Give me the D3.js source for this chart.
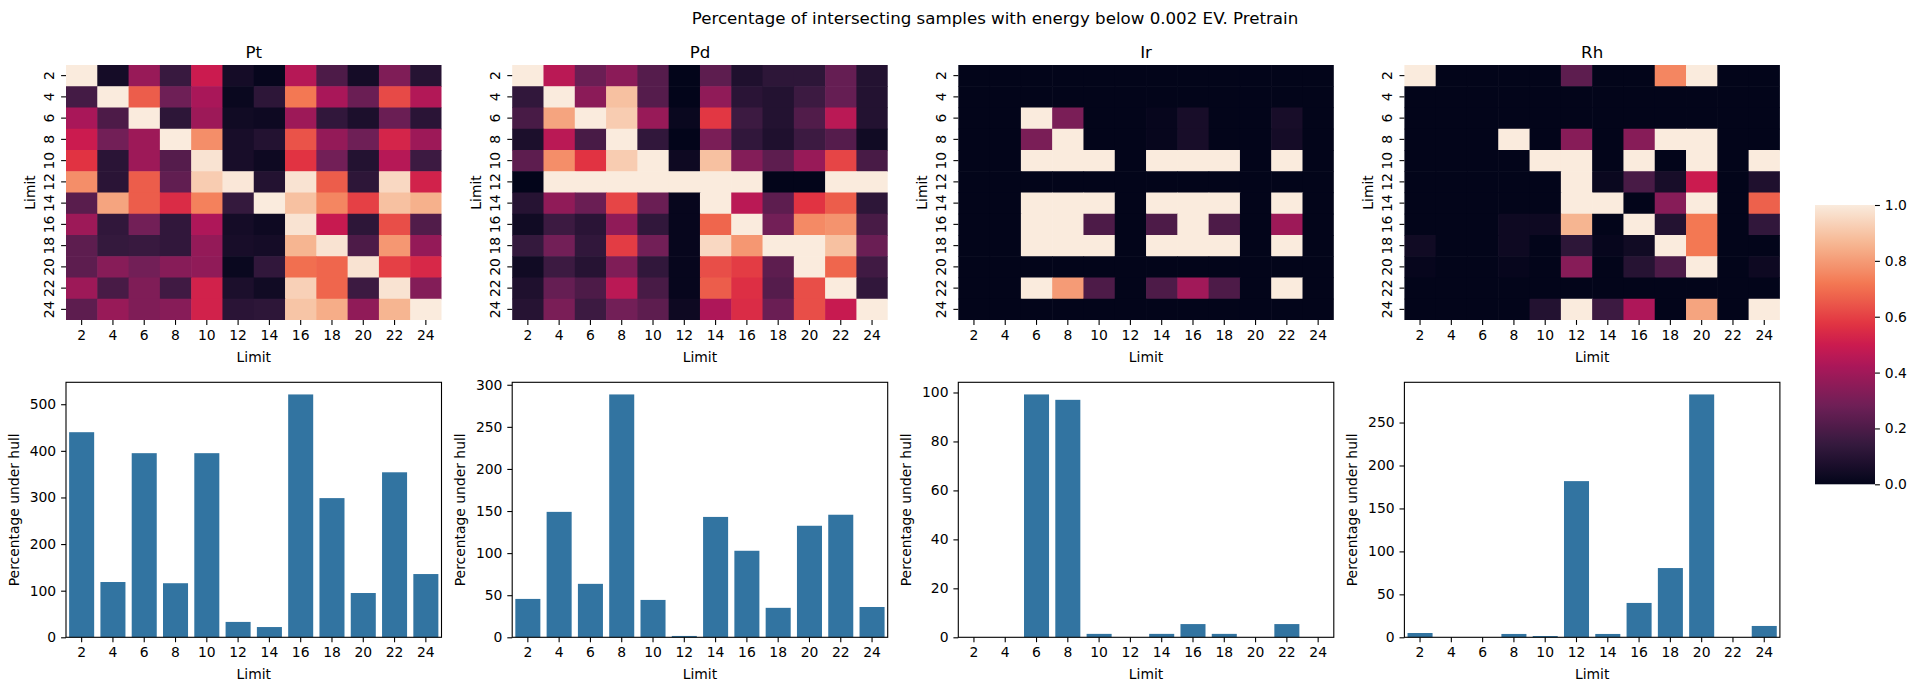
<!DOCTYPE html>
<html><head><meta charset="utf-8">
<script src="https://cdn.jsdelivr.net/npm/d3@7"></script>
<style>
body{margin:0;background:#fff}
svg{display:block}
text{font-family:"DejaVu Sans",sans-serif;fill:#000}
</style>
</head><body>
<svg id="chart" width="1916" height="690"></svg>
<script>
// ---------------- data ----------------
const limits = [2,4,6,8,10,12,14,16,18,20,22,24];
const elements = ["Pt","Pd","Ir","Rh"];
const suptitle = "Percentage of intersecting samples with energy below 0.002 EV. Pretrain";

const ptHeat = [
 [1.00,0.05,0.38,0.15,0.50,0.05,0.01,0.45,0.20,0.05,0.32,0.10],
 [0.18,1.00,0.66,0.28,0.42,0.02,0.12,0.72,0.42,0.27,0.62,0.44],
 [0.42,0.20,1.00,0.12,0.39,0.04,0.03,0.39,0.13,0.07,0.27,0.11],
 [0.50,0.29,0.39,1.00,0.77,0.06,0.09,0.64,0.37,0.28,0.53,0.39],
 [0.57,0.11,0.39,0.22,0.98,0.06,0.03,0.57,0.29,0.09,0.45,0.16],
 [0.77,0.11,0.66,0.25,0.92,0.99,0.09,0.98,0.66,0.12,0.95,0.52],
 [0.23,0.82,0.66,0.55,0.74,0.14,1.00,0.89,0.75,0.60,0.89,0.85],
 [0.39,0.13,0.29,0.13,0.43,0.05,0.03,0.98,0.49,0.12,0.63,0.21],
 [0.24,0.14,0.15,0.13,0.37,0.06,0.05,0.86,0.98,0.20,0.79,0.37],
 [0.24,0.34,0.29,0.34,0.36,0.02,0.13,0.70,0.68,0.98,0.60,0.54],
 [0.39,0.19,0.32,0.17,0.52,0.07,0.04,0.93,0.68,0.16,0.98,0.33],
 [0.24,0.38,0.32,0.34,0.52,0.11,0.12,0.90,0.84,0.36,0.86,1.00]
];
const pdHeat = [
 [1.00,0.46,0.27,0.35,0.22,0.00,0.24,0.08,0.12,0.12,0.26,0.09],
 [0.13,1.00,0.35,0.89,0.22,0.00,0.36,0.11,0.09,0.16,0.26,0.09],
 [0.19,0.82,1.00,0.92,0.38,0.02,0.58,0.16,0.09,0.21,0.46,0.09],
 [0.07,0.46,0.19,1.00,0.13,0.00,0.31,0.13,0.08,0.16,0.22,0.04],
 [0.24,0.77,0.57,0.92,1.00,0.03,0.89,0.33,0.24,0.38,0.61,0.19],
 [0.00,1.00,1.00,1.00,1.00,1.00,1.00,1.00,0.00,0.00,1.00,1.00],
 [0.10,0.36,0.27,0.61,0.27,0.01,1.00,0.46,0.24,0.57,0.66,0.12],
 [0.04,0.16,0.11,0.36,0.13,0.01,0.68,1.00,0.29,0.76,0.78,0.19],
 [0.14,0.29,0.13,0.59,0.29,0.01,0.95,0.79,1.00,1.00,0.89,0.27],
 [0.04,0.16,0.10,0.32,0.13,0.01,0.63,0.59,0.24,1.00,0.68,0.17],
 [0.08,0.26,0.20,0.46,0.19,0.01,0.66,0.56,0.22,0.63,1.00,0.13],
 [0.10,0.31,0.16,0.29,0.24,0.03,0.43,0.55,0.27,0.63,0.49,1.00]
];
const irHeat = [
 [0,0,0,0,0,0,0,0,0,0,0,0],
 [0,0,0,0,0,0,0,0,0,0,0,0],
 [0,0,1.00,0.31,0,0,0.01,0.06,0,0,0.06,0],
 [0,0,0.31,1.00,0,0,0.01,0.06,0,0,0.05,0],
 [0,0,1,1,1,0,1,1,1,0,1,0],
 [0,0,0,0,0,0,0,0,0,0,0,0],
 [0,0,1,1,1,0,1,1,1,0,1,0],
 [0,0,1,1,0.20,0,0.20,1,0.20,0,0.39,0],
 [0,0,1,1,1,0,1,1,1,0,1,0],
 [0,0,0,0,0,0,0,0,0,0,0,0],
 [0,0,1,0.80,0.20,0,0.20,0.40,0.20,0,1,0],
 [0,0,0,0,0,0,0,0,0,0,0,0]
];
const rhHeat = [
 [1,0,0,0,0,0.24,0,0,0.75,1,0,0],
 [0,0,0,0,0,0,0,0,0,0,0,0],
 [0,0,0,0,0,0,0,0,0,0,0,0],
 [0,0,0,1,0,0.34,0,0.34,1,1,0,0],
 [0,0,0,0,1,1,0,1,0,1,0,1],
 [0,0,0,0,0,1,0.02,0.19,0.06,0.50,0,0.08],
 [0,0,0,0,0,1,1,0,0.34,1,0,0.67],
 [0,0,0,0.03,0.03,0.86,0,1,0.09,0.72,0,0.13],
 [0.04,0,0,0.03,0,0.12,0.01,0.04,1,0.72,0,0],
 [0.01,0,0,0.01,0,0.34,0,0.10,0.20,1,0,0.03],
 [0,0,0,0,0,0,0,0,0,0,0,0],
 [0,0,0,0,0.09,1,0.16,0.43,0,0.82,0,1]
];

const ptBars = [440,118.6,395,116,395,33,22,521,298.6,95,354,135.7];
const pdBars = [45.6,149,63.5,288.5,44.4,1.6,143,102.8,35,132.5,145.6,36];
const irBars = [0,0,99.2,97,1.4,0,1.4,5.4,1.4,0,5.4,0];
const rhBars = [5,0,0,3.9,1.5,181.8,3.9,40,80.6,282.7,0,13.2];

const ptTicks = [0,100,200,300,400,500];
const pdTicks = [0,50,100,150,200,250,300];
const irTicks = [0,20,40,60,80,100];
const rhTicks = [0,50,100,150,200,250];
const cbTicks = [0,0.2,0.4,0.6,0.8,1.0];

const heats = [ptHeat, pdHeat, irHeat, rhHeat];
const bars = [ptBars, pdBars, irBars, rhBars];
const barTicks = [ptTicks, pdTicks, irTicks, rhTicks];

// ---------------- style / layout ----------------
const rocketPos = [0, 1/7, 2/7, 3/7, 0.5, 4/7, 5/7, 6/7, 1];
const rocketCol = ["#03051a","#35193e","#701f57","#ad1759","#cb1b4f","#e13342","#f37651","#f6b48f","#faebdd"];
const color = d3.scaleLinear().domain(rocketPos).range(rocketCol).interpolate(d3.interpolateRgb).clamp(true);

const lefts = [66, 512.2, 958.3, 1404.4];
const W = 375.5;
const heatTop = 65, heatBot = 320;
const barTop = 382.3, barBot = 637.3;
const FS = 13.9, TFS = 16.67;
const TL = 4.9, TP = 4.9;
const barColor = "#3274a1";

const svg = d3.select("#chart");

svg.append("text").attr("x", 995).attr("y", 24).attr("text-anchor","middle")
  .attr("font-size", TFS).text(suptitle);

function styleAxis(g){
  g.selectAll("text").attr("font-size", FS).attr("font-family", "DejaVu Sans").attr("fill","#000");
  g.selectAll("line").attr("stroke","#000").attr("stroke-width",1.1);
}

elements.forEach((el, k) => {
  const L = lefts[k];
  // ---------- heatmap ----------
  const x = d3.scaleBand().domain(limits).range([L, L + W]);
  const y = d3.scaleBand().domain(limits).range([heatTop, heatBot]);
  const g = svg.append("g");
  heats[k].forEach((row, i) => {
    row.forEach((v, j) => {
      g.append("rect")
        .attr("x", x(limits[j])).attr("y", y(limits[i]))
        .attr("width", x.bandwidth() + (j < 11 ? 0.6 : 0))
        .attr("height", y.bandwidth() + (i < 11 ? 0.6 : 0))
        .attr("fill", color(v));
    });
  });
  const xa = svg.append("g").attr("transform", `translate(0,${heatBot})`)
    .call(d3.axisBottom(x).tickSize(TL).tickPadding(TP));
  xa.select(".domain").remove();
  styleAxis(xa);
  const ya = svg.append("g").attr("transform", `translate(${L},0)`)
    .call(d3.axisLeft(y).tickSize(TL).tickPadding(TP));
  ya.select(".domain").remove();
  styleAxis(ya);
  ya.selectAll(".tick text")
    .attr("x", null).attr("dy", null).attr("y", null)
    .attr("text-anchor", "middle")
    .attr("transform", "translate(-12.5,0) rotate(-90)");

  svg.append("text").attr("x", L + W/2).attr("y", 57.5).attr("text-anchor","middle")
    .attr("font-size", TFS).text(el);
  svg.append("text").attr("x", L + W/2).attr("y", heatBot + 42).attr("text-anchor","middle")
    .attr("font-size", FS).text("Limit");
  svg.append("text").attr("transform", `translate(${L - 31},${(heatTop+heatBot)/2}) rotate(-90)`)
    .attr("text-anchor","middle").attr("font-size", FS).text("Limit");

  // ---------- bar chart ----------
  const data = bars[k];
  const bx = d3.scaleBand().domain(limits).range([L, L + W]).paddingInner(0.2).paddingOuter(0.1);
  const by = d3.scaleLinear().domain([0, d3.max(data) * 1.05]).range([barBot, barTop]);
  svg.append("g").selectAll("rect").data(data).join("rect")
    .attr("x", (d, i) => bx(limits[i]))
    .attr("width", bx.bandwidth())
    .attr("y", d => by(d))
    .attr("height", d => by(0) - by(d))
    .attr("fill", barColor);
  const bxa = svg.append("g").attr("transform", `translate(0,${barBot})`)
    .call(d3.axisBottom(bx).tickSize(TL).tickPadding(TP));
  bxa.select(".domain").remove();
  styleAxis(bxa);
  const bya = svg.append("g").attr("transform", `translate(${L},0)`)
    .call(d3.axisLeft(by).tickValues(barTicks[k]).tickFormat(d3.format("d")).tickSize(TL).tickPadding(TP));
  bya.select(".domain").remove();
  styleAxis(bya);
  svg.append("rect").attr("x", L).attr("y", barTop).attr("width", W).attr("height", barBot - barTop)
    .attr("fill","none").attr("stroke","#000").attr("stroke-width",1.1);
  svg.append("text").attr("x", L + W/2).attr("y", barBot + 42).attr("text-anchor","middle")
    .attr("font-size", FS).text("Limit");
  svg.append("text").attr("transform", `translate(${L - 47.5},${(barTop+barBot)/2}) rotate(-90)`)
    .attr("text-anchor","middle").attr("font-size", FS).text("Percentage under hull");
});

// ---------- colorbar ----------
const cbX = 1815, cbW = 60, cbTop = 205, cbBot = 484.3;
const defs = svg.append("defs");
const grad = defs.append("linearGradient").attr("id","rocketGrad")
  .attr("x1","0").attr("y1","1").attr("x2","0").attr("y2","0");
d3.range(0, 1.0001, 0.02).forEach(t => {
  grad.append("stop").attr("offset", t).attr("stop-color", color(t));
});
svg.append("rect").attr("x", cbX).attr("y", cbTop).attr("width", cbW).attr("height", cbBot - cbTop)
  .attr("fill","url(#rocketGrad)");
const cy = d3.scaleLinear().domain([0,1]).range([cbBot, cbTop]);
const cba = svg.append("g").attr("transform", `translate(${cbX + cbW},0)`)
  .call(d3.axisRight(cy).tickValues(cbTicks).tickFormat(d3.format(".1f")).tickSize(TL).tickPadding(TP));
cba.select(".domain").remove();
styleAxis(cba);
</script>
</body></html>
